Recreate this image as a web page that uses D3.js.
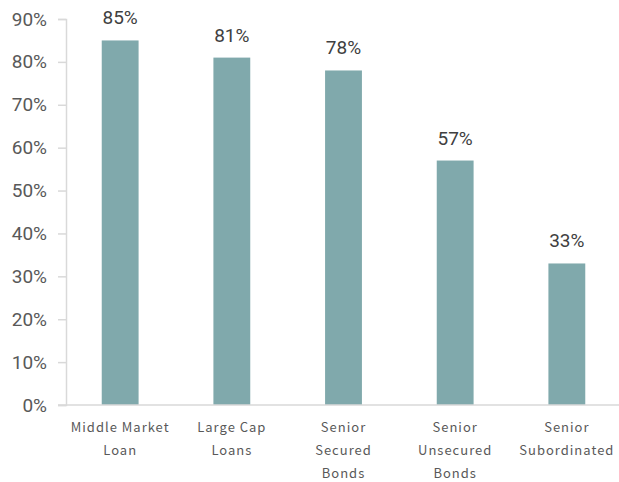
<!DOCTYPE html>
<html lang="en">
<head>
<meta charset="utf-8">
<script src="https://d3js.org/d3.v7.min.js"></script>
<style>
  body { margin: 0; background: #fff; }
  svg { display: block; }
  .tick text { fill: #595959; }
</style>
</head>
<body>
<svg width="619" height="482"></svg>
<script>
// chart data
const categories = [
  ["Middle Market", "Loan"],
  ["Large Cap", "Loans"],
  ["Senior", "Secured", "Bonds"],
  ["Senior", "Unsecured", "Bonds"],
  ["Senior", "Subordinated"]
]
const values = [0.85, 0.81, 0.78, 0.57, 0.33]
const yTicks = [0, 0.1, 0.2, 0.3, 0.4, 0.5, 0.6, 0.7, 0.8, 0.9]

const svg = d3.select("svg")
const margins = {top: 19, bottom: 77, left: 66, right: 0}
const W = 619, H = 482
const gridColor = "#d9d9d9"
const textColor = "#595959"

const x = d3.scaleBand()
    .domain(d3.range(values.length))
    .range([margins.left, W - margins.right + 2])
    .paddingInner(0.67)
    .paddingOuter(0.32)

const y = d3.scaleLinear()
    .domain([0, 0.9])
    .range([H - margins.bottom, margins.top])

// bars
svg.append("g").selectAll("rect")
    .data(values)
    .enter()
    .append("rect")
    .attr("x", (d, i) => x(i))
    .attr("y", d => y(d))
    .attr("width", x.bandwidth())
    .attr("height", d => y(0) - y(d))
    .style("fill", "#80a9ac")

// y axis
let yAxis = svg.append("g")
    .attr("transform", "translate(" + margins.left + ",0)")
    .call(d3.axisLeft(y).tickValues(yTicks).tickFormat(d3.format(".0%")).tickSize(8).tickPadding(11))
yAxis.select(".domain").attr("stroke", gridColor).attr("stroke-width", 1.5)
yAxis.selectAll(".tick line").attr("stroke", gridColor).attr("stroke-width", 1.5)
yAxis.selectAll(".tick text")
    .style("font-family", "Roboto, sans-serif")
    .style("font-size", "19px")

// baseline
svg.append("line")
    .attr("x1", margins.left - 8).attr("x2", W)
    .attr("y1", y(0)).attr("y2", y(0))
    .attr("stroke", gridColor).attr("stroke-width", 1.5)

// value labels
svg.append("g").selectAll("text")
    .data(values)
    .enter()
    .append("text")
    .attr("x", (d, i) => x(i) + x.bandwidth() / 2)
    .attr("y", d => y(d) - 16)
    .attr("text-anchor", "middle")
    .style("font-family", "Roboto, sans-serif")
    .style("font-size", "19px")
    .style("fill", "#404040")
    .text(d => d3.format(".0%")(d))

// category labels
let cats = svg.append("g").selectAll("text")
    .data(categories)
    .enter()
    .append("text")
    .attr("x", (d, i) => x(i) + x.bandwidth() / 2)
    .attr("y", y(0) + 27)
    .attr("text-anchor", "middle")
    .style("font-family", "'Noto Sans CJK JP', sans-serif")
    .style("font-size", "13px")
    .style("letter-spacing", "1px")
    .style("fill", textColor)
cats.selectAll("tspan")
    .data(d => d)
    .enter()
    .append("tspan")
    .attr("x", function() { return d3.select(this.parentNode).attr("x") })
    .attr("dy", (d, i) => i === 0 ? 0 : 23)
    .text(d => d)
</script>
</body>
</html>
